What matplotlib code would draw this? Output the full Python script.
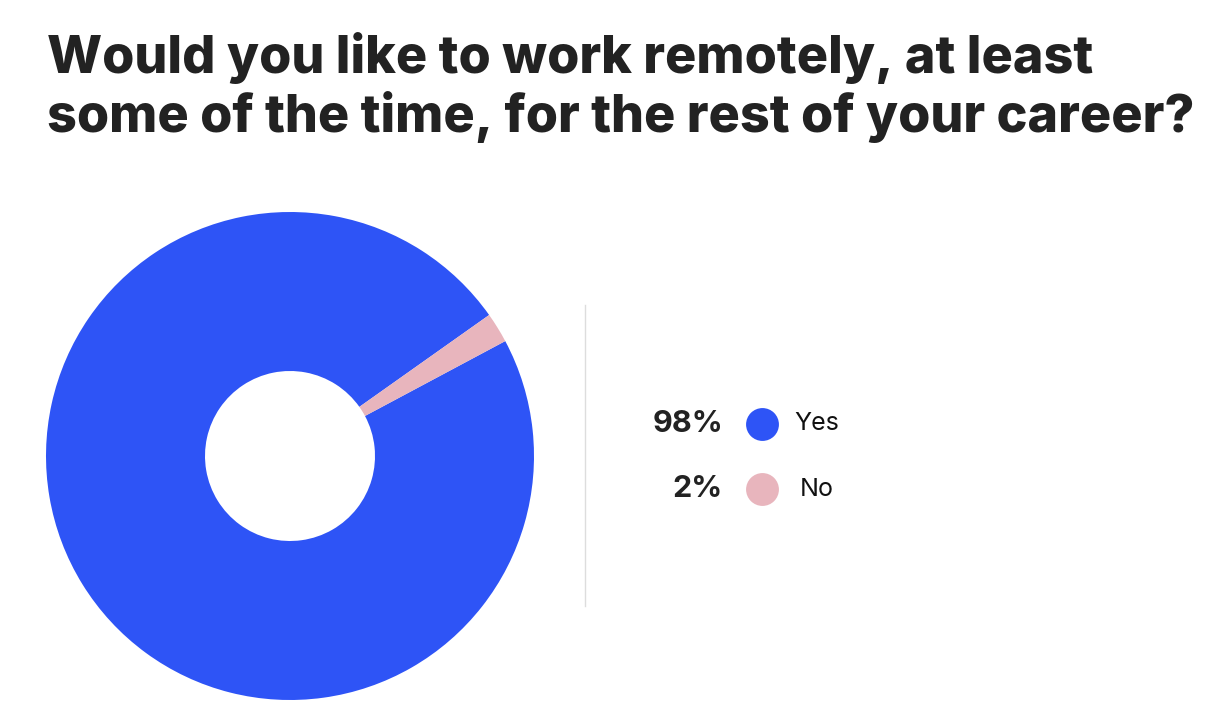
import matplotlib.pyplot as plt

labels = ['Yes', 'No']
values = [98, 2]
colors = ['#2E54F6', '#E8B5BD']
title = 'Would you like to work remotely, at least\nsome of the time, for the rest of your career?'

W, H = 1220, 726
fig = plt.figure(figsize=(W / 100, H / 100), dpi=100)
ax = fig.add_axes([0, 0, 1, 1])

# donut
ax.pie(values, colors=colors, startangle=35.3, counterclock=True,
       center=(290, H - 456), radius=244,
       wedgeprops=dict(width=159, linewidth=0))
ax.set_xlim(0, W)
ax.set_ylim(0, H)
ax.set_aspect('auto')
ax.axis('off')

# title
fig.text(47 / W, 1 - 32 / H, title, ha='left', va='top', fontsize=37.5,
         fontfamily='Inter', fontweight='heavy', color='#222222',
         linespacing=1.18)

# divider
ax.plot([585, 585], [H - 305, H - 606], color='#DDDDDD', lw=1)

# legend
ys = [424, 489]
for lab, v, c, y in zip(labels, values, colors, ys):
    ax.text(723, H - y, f'{v}%', ha='right', va='center', fontsize=22,
            fontfamily='Inter', fontweight='bold', color='#222222')
    ax.scatter([762], [H - y], s=560, color=c, linewidths=0)
    ax.text(817, H - y, lab, ha='center', va='center', fontsize=18,
            fontfamily='Inter', color='#111111')

fig.savefig('out.png', dpi=100)
